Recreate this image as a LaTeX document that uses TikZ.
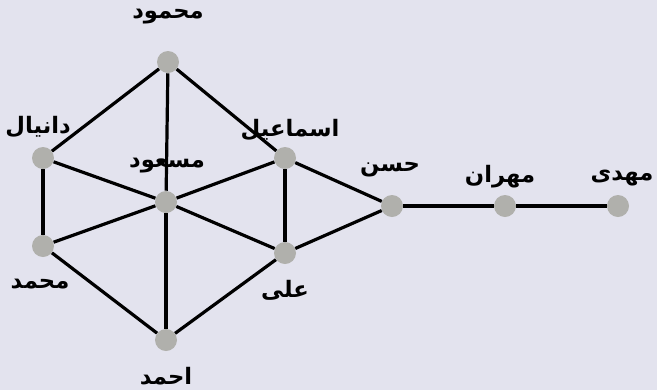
\documentclass[tikz,border=0pt]{standalone}
\usepackage{fontspec}
\TeXXeTstate=1
\newfontfamily\arabicfont[Script=Arabic]{DejaVu Sans}
\definecolor{bgc}{HTML}{E3E3EE}
\definecolor{nodec}{HTML}{B0B0AC}
\tikzset{
  vert/.style={circle,fill=nodec,draw=none,minimum size=16.5pt,inner sep=0pt},
  lbl/.style={font=\arabicfont\bfseries\fontsize{17}{20}\selectfont,inner sep=0pt},
  edge/.style={line width=2.4pt,black}
}
\begin{document}
\begin{tikzpicture}[x=0.75pt,y=-0.75pt]
\fill[bgc] (0,0) rectangle (657,390);
\useasboundingbox (0,0) rectangle (657,390);
\node[vert] (mahmud) at (168,62) {};
\node[vert] (danial) at (43,158) {};
\node[vert] (masud) at (166,202) {};
\node[vert] (esmail) at (285,158) {};
\node[vert] (hasan) at (392,206) {};
\node[vert] (mehran) at (505,206) {};
\node[vert] (mahdi) at (618,206) {};
\node[vert] (mohamad) at (43,246) {};
\node[vert] (ali) at (285,253) {};
\node[vert] (ahmad) at (166,340) {};
\draw[edge] (mahmud) -- (danial);
\draw[edge] (mahmud) -- (masud);
\draw[edge] (mahmud) -- (esmail);
\draw[edge] (esmail) -- (hasan);
\draw[edge] (danial) -- (masud);
\draw[edge] (danial) -- (mohamad);
\draw[edge] (masud) -- (esmail);
\draw[edge] (masud) -- (ali);
\draw[edge] (masud) -- (mohamad);
\draw[edge] (masud) -- (ahmad);
\draw[edge] (esmail) -- (ali);
\draw[edge] (ali) -- (hasan);
\draw[edge] (mohamad) -- (ahmad);
\draw[edge] (ahmad) -- (ali);
\draw[edge] (hasan) -- (mehran);
\draw[edge] (mehran) -- (mahdi);
\node[lbl] (l1) at (168,17) {\beginR محمود\endR};
\node[lbl] (l2) at (38,127) {\beginR دانیال\endR};
\node[lbl] (l3) at (167,166) {\beginR مسعود\endR};
\node[lbl] (l4) at (290,130) {\beginR اسماعیل\endR};
\node[lbl] (l5) at (390,170) {\beginR حسن\endR};
\node[lbl] (l6) at (500,177) {\beginR مهران\endR};
\node[lbl] (l7) at (622,178) {\beginR مهدی\endR};
\node[lbl] (l8) at (40,284) {\beginR محمد\endR};
\node[lbl] (l9) at (285,290) {\beginR علی\endR};
\node[lbl] (l10) at (166,376) {\beginR احمد\endR};
\end{tikzpicture}
\end{document}
